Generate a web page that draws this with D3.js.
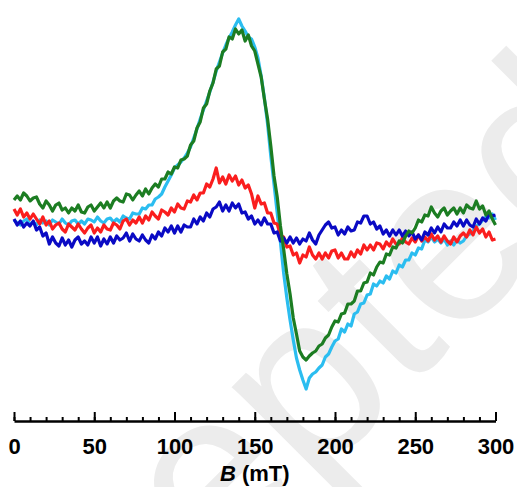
<!DOCTYPE html>
<html>
<head>
<meta charset="utf-8">
<script src="https://cdn.jsdelivr.net/npm/d3@7"></script>
<style>
  body { margin: 0; background: #fff; }
  svg { display: block; font-family: "Liberation Sans", Arial, sans-serif; }
</style>
</head>
<body>
<div id="chart"></div>
<script>
// field sweep: 0..300 mT, one sample every 2 mT
const fieldStart = 0;
const fieldStep = 2;

// EPR intensities (arbitrary units)
const green = [
  10, 14, 10, 17, 14, 9, 12, 13, 6, 2,
  9, 5, -1, 5, 7, 0, 2, -3, 2, -1,
  5, -2, -3, 3, 5, -1, 3, 7, 2, 8,
  2, 9, 12, 9, 8, 16, 15, 10, 15, 19,
  14, 21, 16, 22, 26, 23, 31, 31, 38, 36,
  43, 42, 50, 51, 54, 65, 69, 82, 88, 102,
  106, 119, 127, 141, 144, 158, 161, 173, 171, 181,
  176, 180, 169, 175, 164, 159, 146, 133, 111, 91,
  64, 34, 13, -16, -39, -64, -84, -108, -124, -141,
  -147, -150, -146, -143, -141, -136, -134, -128, -125, -117,
  -111, -112, -104, -103, -94, -94, -91, -81, -81, -73,
  -72, -63, -65, -57, -52, -53, -44, -45, -37, -38,
  -31, -33, -26, -21, -23, -18, -10, -12, -5, -6,
  3, -3, -7, -1, 2, -5, -1, 2, -4, 2,
  -3, 5, 2, 1, 9, 1, 4, -5, -1, -9, -15
];

const cyan = [
  -10, -13, -15, -11, -9, -14, -12, -15, -10, -13,
  -11, -15, -10, -12, -14, -9, -13, -15, -11, -10,
  -14, -11, -14, -9, -10, -12, -7, -11, -13, -9,
  -8, -12, -9, -12, -6, -8, -9, -3, -4, -4,
  2, 1, 5, 5, 11, 13, 16, 23, 29, 35,
  42, 45, 48, 52, 57, 63, 72, 81, 91, 100,
  109, 118, 128, 139, 148, 157, 165, 172, 178, 185,
  191, 184, 179, 173, 171, 163, 152, 134, 112, 86,
  54, 26, -3, -32, -63, -88, -110, -130, -148, -160,
  -170, -179, -168, -164, -162, -158, -155, -147, -144, -137,
  -131, -129, -119, -122, -114, -116, -104, -102, -94, -93,
  -85, -84, -74, -76, -71, -73, -66, -69, -61, -63,
  -55, -57, -50, -50, -43, -45, -38, -39, -30, -32,
  -27, -32, -29, -33, -29, -35, -31, -35, -30, -33,
  -31, -26, -24, -21, -16, -14, -10, -7, -8, -4, -10
];

const red = [
  1, -5, 1, -7, -3, -9, -4, -9, -14, -7,
  -15, -11, -19, -15, -13, -19, -22, -14, -17, -20,
  -14, -19, -23, -18, -15, -23, -18, -22, -15, -19,
  -20, -13, -15, -19, -11, -9, -15, -10, -13, -7,
  -13, -6, -10, -2, -6, -9, 0, -2, -5, 2,
  -2, 6, 2, 1, 9, 8, 15, 10, 17, 17,
  26, 23, 31, 42, 27, 33, 26, 35, 29, 34,
  25, 30, 22, 25, 16, 2, 14, 6, 7, -3,
  -3, -13, -14, -25, -27, -37, -36, -45, -43, -53,
  -45, -47, -37, -45, -49, -43, -49, -43, -48, -41,
  -40, -48, -43, -49, -49, -42, -47, -40, -44, -35,
  -40, -35, -40, -33, -34, -39, -32, -36, -29, -34,
  -34, -28, -32, -34, -28, -32, -25, -31, -27, -31,
  -24, -30, -26, -32, -26, -31, -34, -27, -32, -26,
  -23, -27, -20, -25, -17, -23, -19, -27, -22, -30, -29
];

const blue = [
  -9, -15, -11, -17, -13, -16, -11, -20, -17, -26,
  -23, -34, -27, -33, -36, -28, -35, -30, -37, -30,
  -27, -34, -31, -35, -27, -33, -27, -36, -29, -34,
  -27, -33, -26, -30, -28, -23, -31, -24, -29, -31,
  -25, -30, -33, -25, -29, -22, -26, -18, -22, -16,
  -23, -16, -22, -15, -17, -17, -9, -14, -7, -11,
  -3, -7, 1, 3, 8, -1, 5, -1, 7, 2,
  6, -3, -2, -9, -6, -14, -10, -15, -8, -14,
  -14, -23, -22, -31, -28, -33, -27, -33, -28, -34,
  -29, -31, -23, -30, -34, -25, -20, -15, -12, -18,
  -17, -25, -20, -24, -17, -21, -20, -12, -13, -6,
  -6, -14, -12, -19, -16, -24, -20, -26, -20, -25,
  -20, -26, -21, -26, -22, -29, -25, -30, -22, -25,
  -18, -23, -17, -22, -14, -18, -18, -12, -16, -10,
  -16, -10, -15, -17, -9, -14, -8, -11, -4, -6, -5
];

const majorTicks = [0, 50, 100, 150, 200, 250, 300];
const minorTicks = d3.range(0, 301, 10);

// drawn back to front
const series = [
  { name: "cyan", values: cyan, color: "#2bbdf0" },
  { name: "red", values: red, color: "#fa1e1e" },
  { name: "blue", values: blue, color: "#0a0ac4" },
  { name: "green", values: green, color: "#1c7d22" }
];

const width = 517, height = 487;

const svg = d3.select("#chart").append("svg")
  .attr("width", width)
  .attr("height", height);

// faint diagonal watermark
svg.append("text")
  .attr("transform", "translate(-67,865) rotate(-45)")
  .attr("font-size", 240)
  .attr("fill", "#ececec")
  .text("Accepted");

const x = d3.scaleLinear().domain([0, 300]).range([14, 495.5]);
const y = d3.scaleLinear().domain([-190, 190]).range([400, 20]);

const line = d3.line()
  .x((d, i) => x(fieldStart + i * fieldStep))
  .y(d => y(d));

svg.selectAll("path.trace")
  .data(series)
  .enter()
  .append("path")
  .attr("class", "trace")
  .attr("fill", "none")
  .attr("stroke", d => d.color)
  .attr("stroke-width", 3.2)
  .attr("stroke-linejoin", "round")
  .attr("d", d => line(d.values));

const axisY = 421;

// minor ticks
svg.append("g")
  .attr("transform", `translate(0,${axisY})`)
  .call(d3.axisBottom(x).tickValues(minorTicks).tickSize(-4).tickSizeOuter(0).tickFormat(""))
  .call(g => g.select(".domain").remove())
  .call(g => g.selectAll("line").attr("stroke-width", 2));

// major ticks + labels
svg.append("g")
  .attr("transform", `translate(0,${axisY})`)
  .call(d3.axisBottom(x).tickValues(majorTicks).tickSize(-9).tickSizeOuter(0).tickPadding(17))
  .call(g => g.select(".domain").attr("stroke-width", 2.5))
  .call(g => g.selectAll("line").attr("stroke-width", 2))
  .call(g => g.selectAll("text")
    .attr("font-family", "'Liberation Sans', Arial, sans-serif")
    .attr("font-size", 22)
    .attr("font-weight", "bold")
    .attr("fill", "#000"));

const title = svg.append("text")
  .attr("x", x(150))
  .attr("y", 481)
  .attr("text-anchor", "middle")
  .attr("font-size", 22)
  .attr("font-weight", "bold");
title.append("tspan").attr("font-style", "italic").text("B");
title.append("tspan").text(" (mT)");
</script>
</body>
</html>
